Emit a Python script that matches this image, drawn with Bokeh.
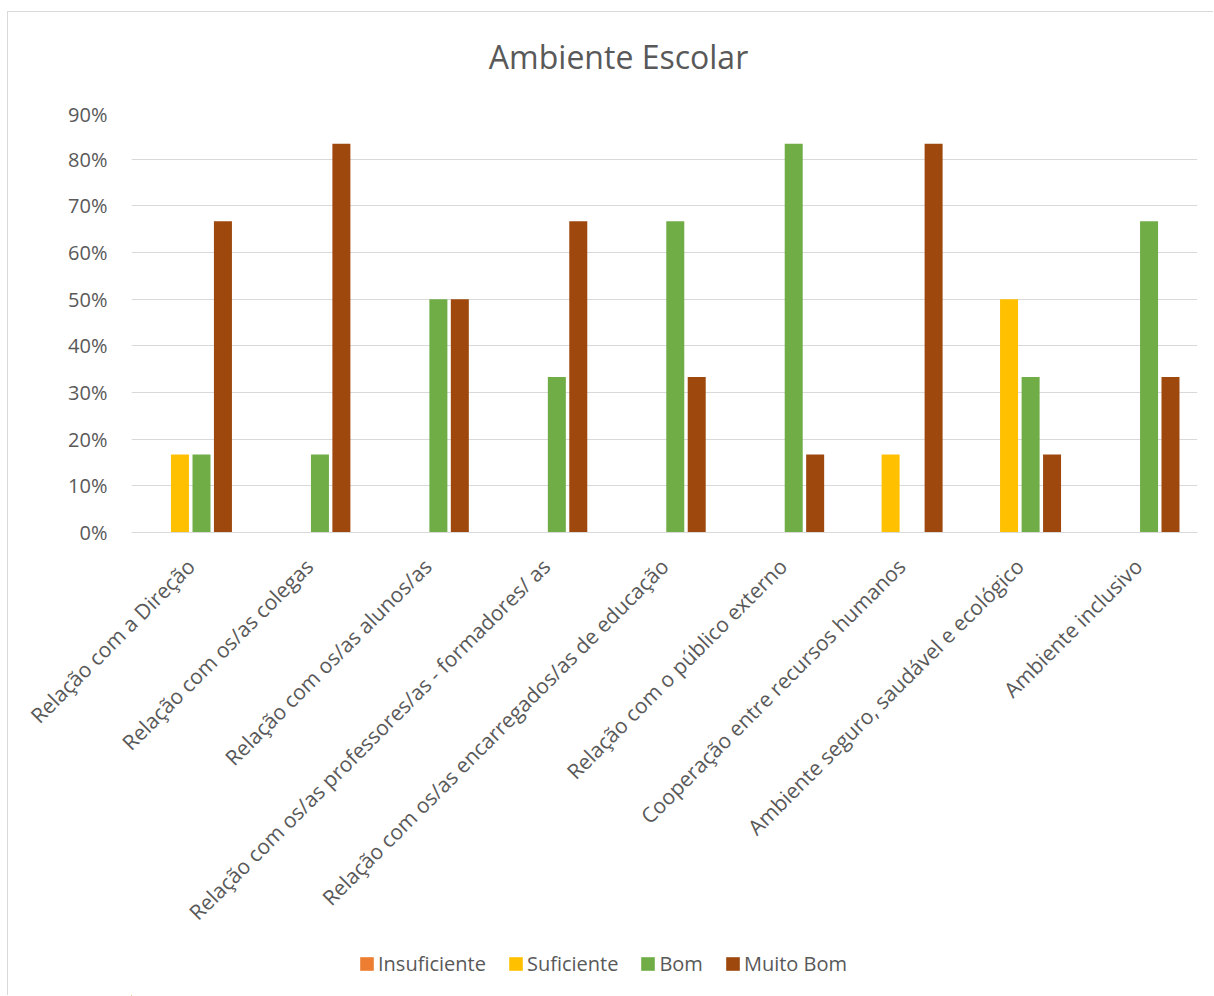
import math
from bokeh.plotting import figure
from bokeh.layouts import column
from bokeh.models import (ColumnDataSource, FactorRange, Range1d, Legend, LegendItem,
                          NumeralTickFormatter, FixedTicker, Label)
from bokeh.transform import dodge
from bokeh.embed import file_html
from bokeh.resources import INLINE

categories = [
    "Relação com a Direção",
    "Relação com os/as colegas",
    "Relação com os/as alunos/as",
    "Relação com os/as professores/as - formadores/ as",
    "Relação com os/as encarregados/as de educação",
    "Relação com o público externo",
    "Cooperação entre recursos humanos",
    "Ambiente seguro, saudável e ecológico",
    "Ambiente inclusivo",
]
insuficiente = [0, 0, 0, 0, 0, 0, 0, 0, 0]
suficiente = [0.167, 0, 0, 0, 0, 0, 0.167, 0.50, 0]
bom = [0.167, 0.167, 0.50, 0.333, 0.667, 0.833, 0, 0.333, 0.667]
muito_bom = [0.667, 0.833, 0.50, 0.667, 0.333, 0.167, 0.833, 0.167, 0.333]
series_names = ["Insuficiente", "Suficiente", "Bom", "Muito Bom"]
series_colors = ["#ED7D31", "#FFC000", "#70AD47", "#9E480E"]
y_ticks = [0, 0.1, 0.2, 0.3, 0.4, 0.5, 0.6, 0.7, 0.8, 0.9]
title_text = "Ambiente Escolar"

FONT = "Open Sans"
GREY_TXT = "#595959"
GRID = "#D9D9D9"
W = 1206
TITLE_H = 88
LEG_H = 58
MAIN_H = 984 - TITLE_H - LEG_H

# title strip
tt = figure(x_range=Range1d(0, W), y_range=Range1d(0, TITLE_H), width=W, height=TITLE_H,
            output_backend="svg", toolbar_location=None, min_border=0)
tt.axis.visible = False
tt.grid.grid_line_color = None
tt.outline_line_color = None
tt.add_layout(Label(x=551, y=TITLE_H - 44, text=title_text, text_align="center",
                    text_baseline="middle", text_font=FONT, text_font_size="32px",
                    text_color=GREY_TXT))

# main chart
src = ColumnDataSource(dict(cat=categories, s0=insuficiente, s1=suficiente,
                            s2=bom, s3=muito_bom))

p = figure(x_range=FactorRange(*categories), y_range=Range1d(0, 0.9),
           width=W, height=MAIN_H, output_backend="svg", toolbar_location=None,
           min_border_left=123, min_border_right=17, min_border_top=12,
           min_border_bottom=MAIN_H - 12 - 420)
p.outline_line_color = None
p.background_fill_color = "white"
p.border_fill_color = "white"

offsets = [-0.272, -0.091, 0.091, 0.272]
bar_w = 0.152
for i, (name, col) in enumerate(zip(series_names, series_colors)):
    p.vbar(x=dodge("cat", offsets[i], range=p.x_range), top="s%d" % i, width=bar_w,
           source=src, fill_color=col, line_color=None)

p.xgrid.grid_line_color = None
p.ygrid.grid_line_color = GRID
p.ygrid.grid_line_width = 1
p.yaxis.ticker = FixedTicker(ticks=y_ticks)
p.yaxis.formatter = NumeralTickFormatter(format="0%")
p.yaxis.axis_line_color = None
p.yaxis.major_tick_line_color = None
p.yaxis.minor_tick_line_color = None
p.yaxis.major_label_standoff = 18
p.yaxis.major_label_text_font = FONT
p.yaxis.major_label_text_font_size = "20px"
p.yaxis.major_label_text_color = GREY_TXT

p.xaxis.axis_line_color = GRID
p.xaxis.major_tick_line_color = None
p.xaxis.minor_tick_line_color = None
p.xaxis.major_label_orientation = math.pi / 4
p.xaxis.major_label_text_font = FONT
p.xaxis.major_label_text_font_size = "21px"
p.xaxis.major_label_text_color = GREY_TXT
p.xaxis.major_label_standoff = 24

# legend strip
lg = figure(x_range=Range1d(0, W), y_range=Range1d(0, LEG_H), width=W, height=LEG_H,
            output_backend="svg", toolbar_location=None, min_border=0)
lg.axis.visible = False
lg.grid.grid_line_color = None
lg.outline_line_color = None
leg_src = ColumnDataSource(dict(x=[-5000], top=[1]))
leg_rs = [lg.vbar(x="x", top="top", width=1, source=leg_src, fill_color=c, line_color=None)
          for c in series_colors]
legend = Legend(items=[LegendItem(label=n, renderers=[r]) for n, r in zip(series_names, leg_rs)],
                orientation="horizontal", location=(227, 19), padding=0, margin=0,
                border_line_color=None, background_fill_alpha=0,
                glyph_width=17, glyph_height=17, label_standoff=3, spacing=21,
                label_text_font=FONT, label_text_font_size="20px",
                label_text_color=GREY_TXT)
lg.add_layout(legend, "center")

layout = column(tt, p, lg, spacing=0)
layout.margin = (12, 0, 0, 8)
layout.styles = {"box-shadow": "-1px -1px 0 0 #D9D9D9"}

open("out.html", "w").write(file_html(layout, INLINE))
